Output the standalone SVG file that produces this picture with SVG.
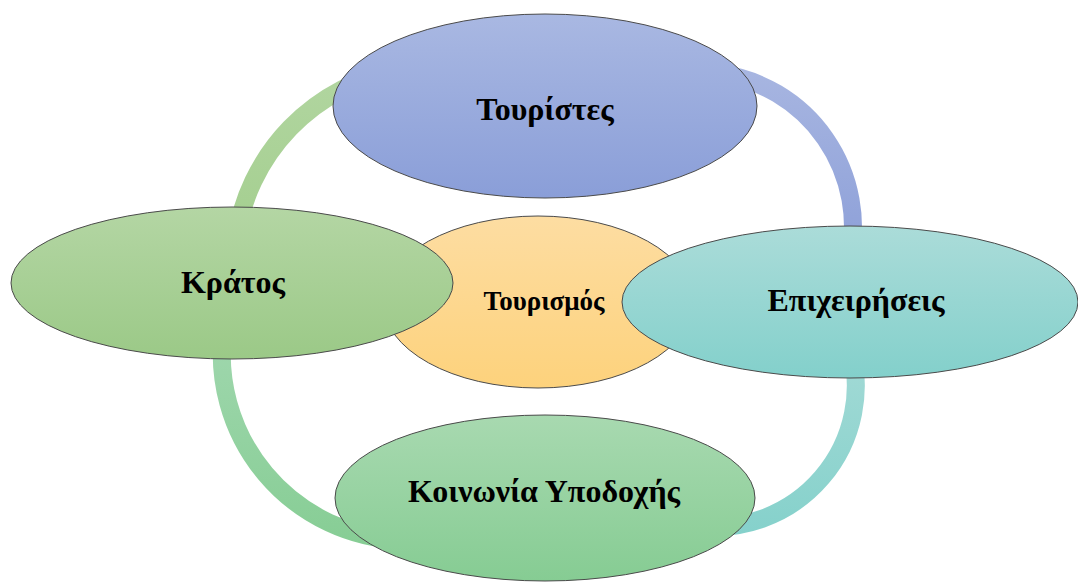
<svg xmlns="http://www.w3.org/2000/svg" width="1078" height="582" viewBox="0 0 1078 582">
  <style>
    .node { stroke: #4a4a4a; stroke-width: 1; }
    .ring { fill: none; stroke-width: 18; }
    .lbl { font-family: "Liberation Serif", "Times New Roman", serif; font-weight: bold; fill: #000; text-anchor: middle; }
  </style>
  <defs>
    <linearGradient id="gTop" x1="0" y1="0" x2="0" y2="1">
      <stop offset="0" stop-color="#a9b8e2"/>
      <stop offset="1" stop-color="#8a9ed8"/>
    </linearGradient>
    <linearGradient id="gLeft" x1="0" y1="0" x2="0" y2="1">
      <stop offset="0" stop-color="#b4d6a4"/>
      <stop offset="1" stop-color="#9bc987"/>
    </linearGradient>
    <linearGradient id="gRight" x1="0" y1="0" x2="0" y2="1">
      <stop offset="0" stop-color="#abdcd9"/>
      <stop offset="1" stop-color="#83d0cb"/>
    </linearGradient>
    <linearGradient id="gBottom" x1="0" y1="0" x2="0" y2="1">
      <stop offset="0" stop-color="#a8d9b0"/>
      <stop offset="1" stop-color="#86cc93"/>
    </linearGradient>
    <linearGradient id="gCenter" x1="0" y1="0" x2="0" y2="1">
      <stop offset="0" stop-color="#fddda2"/>
      <stop offset="1" stop-color="#fdd27c"/>
    </linearGradient>
    <linearGradient id="rTL" gradientUnits="userSpaceOnUse" x1="0" y1="60" x2="0" y2="250">
      <stop offset="0" stop-color="#b2d6a1"/>
      <stop offset="1" stop-color="#a3ce8e"/>
    </linearGradient>
    <linearGradient id="rTR" gradientUnits="userSpaceOnUse" x1="0" y1="65" x2="0" y2="260">
      <stop offset="0" stop-color="#a8b6e1"/>
      <stop offset="1" stop-color="#8c9fd8"/>
    </linearGradient>
    <linearGradient id="rBR" gradientUnits="userSpaceOnUse" x1="0" y1="350" x2="0" y2="535">
      <stop offset="0" stop-color="#a3dad6"/>
      <stop offset="1" stop-color="#85d1cb"/>
    </linearGradient>
    <linearGradient id="rBL" gradientUnits="userSpaceOnUse" x1="0" y1="330" x2="0" y2="550">
      <stop offset="0" stop-color="#a0d7ae"/>
      <stop offset="1" stop-color="#86cd94"/>
    </linearGradient>
  </defs>

  <g id="connectors">
    <path class="ring" stroke="url(#rTL)" d="M 235.8 240 A 200 200 0 0 1 400 69.9"/>
    <path class="ring" stroke="url(#rTR)" d="M 720 73.5 A 155 155 0 0 1 849.4 260"/>
    <path class="ring" stroke="url(#rBR)" d="M 851.2 350 A 141.3 141.3 0 0 1 700 526.3"/>
    <path class="ring" stroke="url(#rBL)" d="M 400 540.1 A 186.3 186.3 0 0 1 223.3 330"/>
  </g>

  <g id="node-center">
    <ellipse class="node" cx="538" cy="302" rx="155" ry="86" fill="url(#gCenter)"/>
    <text class="lbl" x="544" y="310" font-size="27">Τουρισμός</text>
  </g>
  <g id="node-top">
    <ellipse class="node" cx="545" cy="106" rx="212" ry="92" fill="url(#gTop)"/>
    <text class="lbl" x="545" y="120" font-size="32">Τουρίστες</text>
  </g>
  <g id="node-left">
    <ellipse class="node" cx="232" cy="283" rx="221" ry="76" fill="url(#gLeft)"/>
    <text class="lbl" x="233" y="293" font-size="32">Κράτος</text>
  </g>
  <g id="node-right">
    <ellipse class="node" cx="850" cy="302" rx="228" ry="76" fill="url(#gRight)"/>
    <text class="lbl" x="856" y="311" font-size="32">Επιχειρήσεις</text>
  </g>
  <g id="node-bottom">
    <ellipse class="node" cx="545" cy="498" rx="210" ry="83" fill="url(#gBottom)"/>
    <text class="lbl" x="544" y="502" font-size="32">Κοινωνία Υποδοχής</text>
  </g>
</svg>
